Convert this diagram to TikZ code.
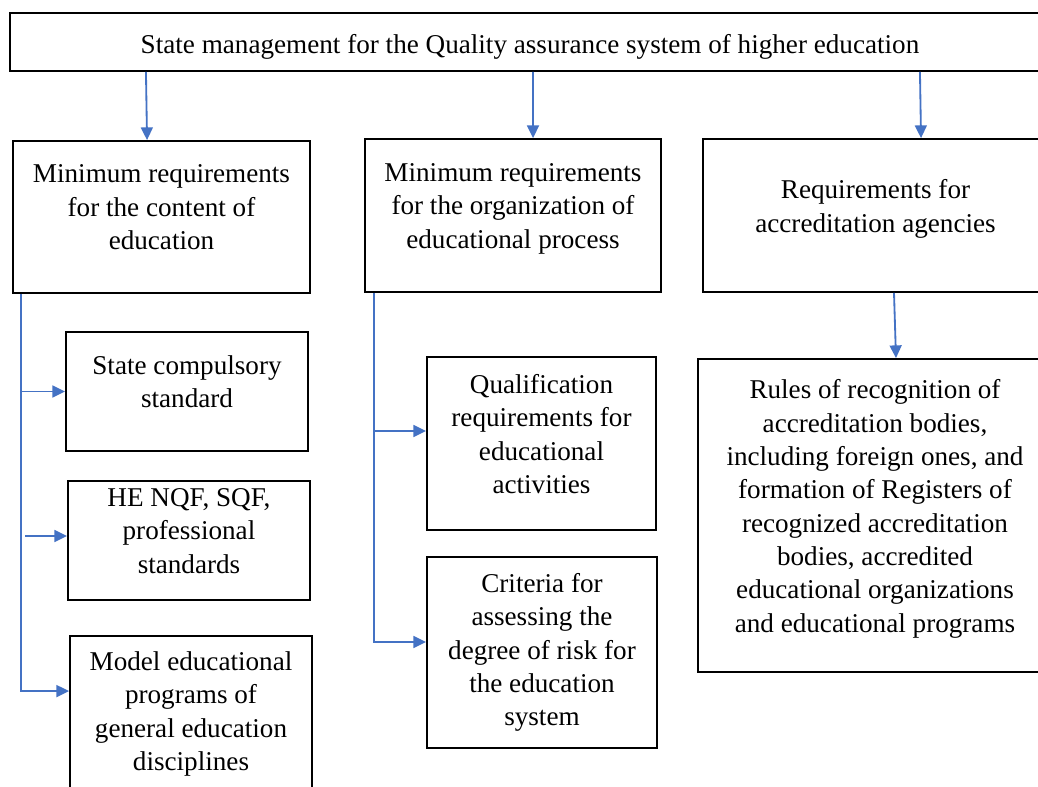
\documentclass[tikz,border=0pt]{standalone}
\usepackage{fontspec}
\setmainfont{Liberation Serif}
\usetikzlibrary{positioning, arrows.meta, calc}
\usepackage{xcolor}
\definecolor{qablue}{HTML}{4472C4}

\tikzset{
  qabox/.style={draw=black, line width=1.3pt, align=center, inner sep=0pt,
                font=\fontsize{19.3}{23.7}\selectfont},
  qaup/.style={text depth=13.8pt},
  qaarrow/.style={draw=qablue, line width=1.3pt, -{Triangle[length=9pt,width=8.5pt]}}
}

\begin{document}
\begin{tikzpicture}[x=0.025cm, y=-0.025cm]
  \useasboundingbox (0,0) rectangle (1038,787);

  % top level
  \node[qabox, text height=20pt, minimum width=26cm, minimum height=1.45cm] (top) at (530,42)
    {State management for the Quality assurance system of higher education};

  % three branches
  \node[qabox, qaup, minimum width=7.425cm, minimum height=3.8cm] (content) at (161.5,217)
    {Minimum requirements\\ for the content of\\ education};
  \node[qabox, qaup, minimum width=7.4cm, minimum height=3.825cm] (process) at (513,215.5)
    {Minimum requirements\\ for the organization of\\ educational process};
  \node[qabox, qaup, minimum width=8.625cm, minimum height=3.825cm] (agency) at (875.5,215.5)
    {Requirements for\\ accreditation agencies};

  % content of education
  \node[qabox, qaup, minimum width=6.05cm, minimum height=2.975cm] (standard) at (187,391.5)
    {State compulsory\\ standard};
  \node[qabox, qaup, minimum width=6.05cm, minimum height=2.975cm] (nqf) at (189,540.5)
    {HE NQF, SQF,\\ professional\\ standards};
  \node[qabox, minimum width=6.05cm, minimum height=3.9cm] (model) at (191,714)
    {Model educational\\ programs of\\ general education\\ disciplines};

  % educational process
  \node[qabox, qaup, minimum width=5.725cm, minimum height=4.325cm] (qualif) at (541.5,443.5)
    {Qualification\\ requirements for\\ educational\\ activities};
  \node[qabox, minimum width=5.75cm, minimum height=4.775cm] (risk) at (542,652.5)
    {Criteria for\\ assessing the\\ degree of risk for\\ the education\\ system};

  % accreditation
  \node[qabox, qaup, minimum width=8.85cm, minimum height=7.825cm] (rules) at (875,515.5)
    {Rules of recognition of\\ accreditation bodies,\\ including foreign ones, and\\
     formation of Registers of\\ recognized accreditation\\ bodies, accredited\\
     educational organizations\\ and educational programs};

  % arrows from the top
  \draw[qaarrow] ($(top.south west)+(137,0)$) -- ($(content.north west)+(135,0)$);
  \draw[qaarrow] ($(top.south west)+(524,0)$) -- ($(process.north west)+(169,0)$);
  \draw[qaarrow] ($(top.south west)+(911,0)$) -- ($(agency.north west)+(219,0)$);

  % left bus
  \coordinate (cbus) at ($(content.south west)+(9,0)$);
  \draw[qaarrow] (cbus) |- ($(model.north west)+(0,56)$);
  \draw[qaarrow] (cbus |- standard.west) -- (standard.west);
  \draw[qaarrow] ($(cbus |- nqf.west)+(4,-4.5)$) -- ($(nqf.west)+(0,-4.5)$);

  % middle bus
  \coordinate (pbus) at ($(process.south west)+(10,0)$);
  \draw[qaarrow] (pbus) |- ($(risk.west)+(0,-10.5)$);
  \draw[qaarrow] (pbus |- qualif.west) ++(0,-12.5) -- ($(qualif.west)+(0,-12.5)$);

  % right
  \draw[qaarrow] ($(agency.south)+(18.5,0)$) -- ($(rules.north)+(21,0)$);
\end{tikzpicture}
\end{document}
